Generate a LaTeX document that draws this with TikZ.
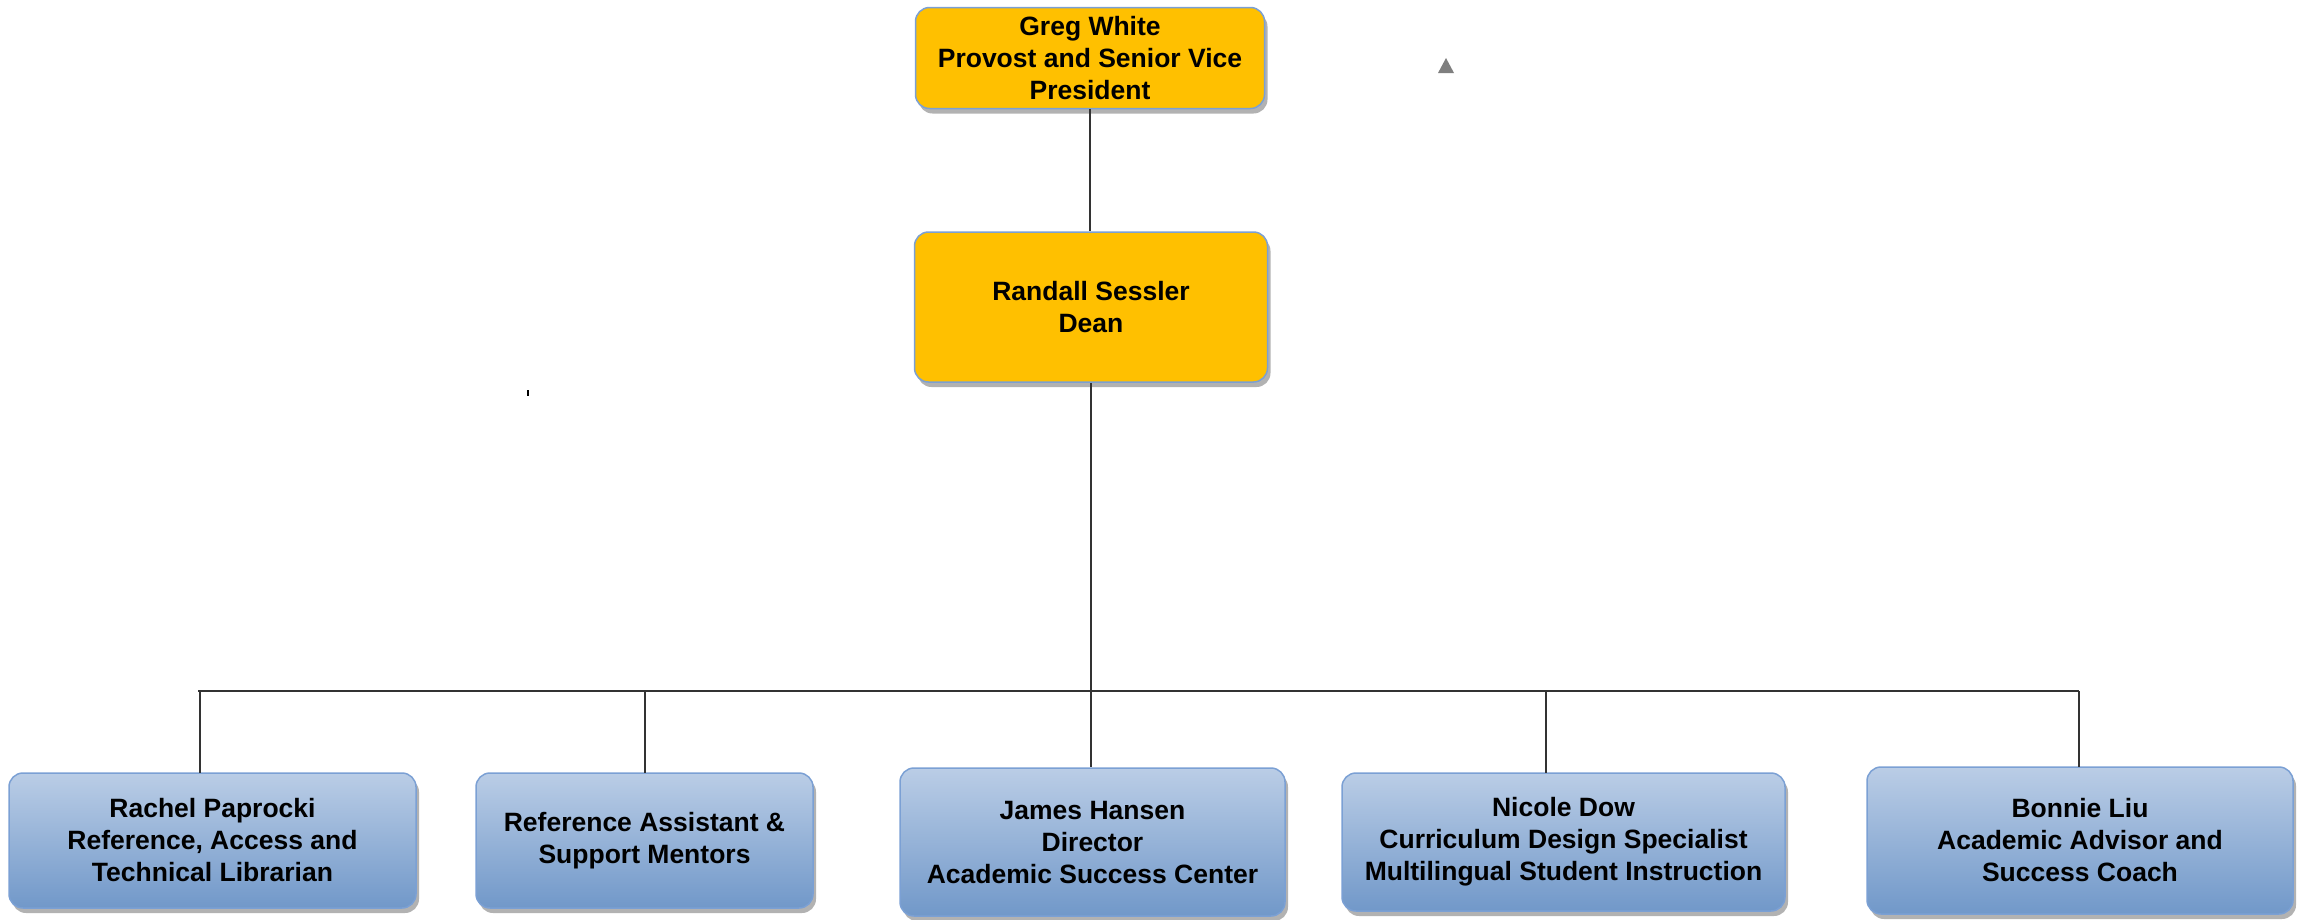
\documentclass[tikz,border=0pt]{standalone}
\usepackage{fontspec}
\setmainfont{Liberation Sans}
\usetikzlibrary{shadows}
\definecolor{orangefill}{HTML}{FFC000}
\definecolor{boxborder}{HTML}{7BA0D4}
\definecolor{bluetop}{HTML}{BACDE6}
\definecolor{bluebot}{HTML}{7198C9}
\definecolor{linegray}{HTML}{333333}
\definecolor{trigray}{HTML}{7F7F7F}
\tikzset{
  boxbase/.style={rectangle, rounded corners=14pt, draw=boxborder, line width=1.5pt,
    align=center, inner sep=0pt,
    font=\bfseries\fontsize{26.5}{32}\selectfont,
    drop shadow={shadow xshift=3pt, shadow yshift=-5pt, fill=black, opacity=0.3}},
  orangebox/.style={boxbase, fill=orangefill},
  bluebox/.style={boxbase, top color=bluetop, bottom color=bluebot},
  conn/.style={draw=linegray, line width=1.5pt},
  barline/.style={draw=linegray, line width=2.2pt}
}
\begin{document}
\begin{tikzpicture}[x=1pt,y=-1pt]
\useasboundingbox (0,0) rectangle (2305,919);
% top level
\node[orangebox, minimum width=349pt, minimum height=101pt] (top) at (1090,58)
  {Greg White\\Provost and Senior Vice\\President};
\node[orangebox, minimum width=353pt, minimum height=150pt] (dean) at (1091,307)
  {Randall Sessler\\Dean};
% bottom row
\node[bluebox, minimum width=407pt, minimum height=135pt] (b1) at (212.5,840.5)
  {Rachel Paprocki\\Reference, Access and\\Technical Librarian};
\node[bluebox, minimum width=337pt, minimum height=135pt] (b2) at (644.5,840.5)
  {Reference Assistant \&\\Support Mentors};
\node[bluebox, minimum width=385pt, minimum height=148pt] (b3) at (1092.5,842)
  {James Hansen\\Director\\Academic Success Center};
\node[bluebox, minimum width=443pt, minimum height=138pt] (b4) at (1563.5,842)
  {Nicole Dow\\Curriculum Design Specialist\\Multilingual Student Instruction};
\node[bluebox, minimum width=426pt, minimum height=147pt] (b5) at (2080,840.5)
  {Bonnie Liu\\Academic Advisor and\\Success Coach};
% bar coordinates
\coordinate (barL) at (198,691);
\coordinate (barR) at (2079,691);
\coordinate (d1) at (200,691);
\coordinate (d2) at (645,691);
\coordinate (d4) at (1546,691);
\coordinate (d5) at (2079,691);
\coordinate (e1) at (200,773);
\coordinate (e2) at (645,773);
\coordinate (e4) at (1546,773);
\coordinate (e5) at (2079,767);
% connectors
\draw[conn] (top.south) -- (top.south |- dean.north);
\draw[conn] (dean.south) -- (dean.south |- b3.north);
\draw[barline] (barL) -- (barR);
\draw[conn] (d1) -- (e1);
\draw[conn] (d2) -- (e2);
\draw[conn] (d4) -- (e4);
\draw[conn] (d5) -- (e5);
% stray marks
\fill[trigray] (1446,58) -- (1454,73) -- (1438,73) -- cycle;
\draw[black, line width=2pt] (528,390) -- (528,396);
\end{tikzpicture}
\end{document}
